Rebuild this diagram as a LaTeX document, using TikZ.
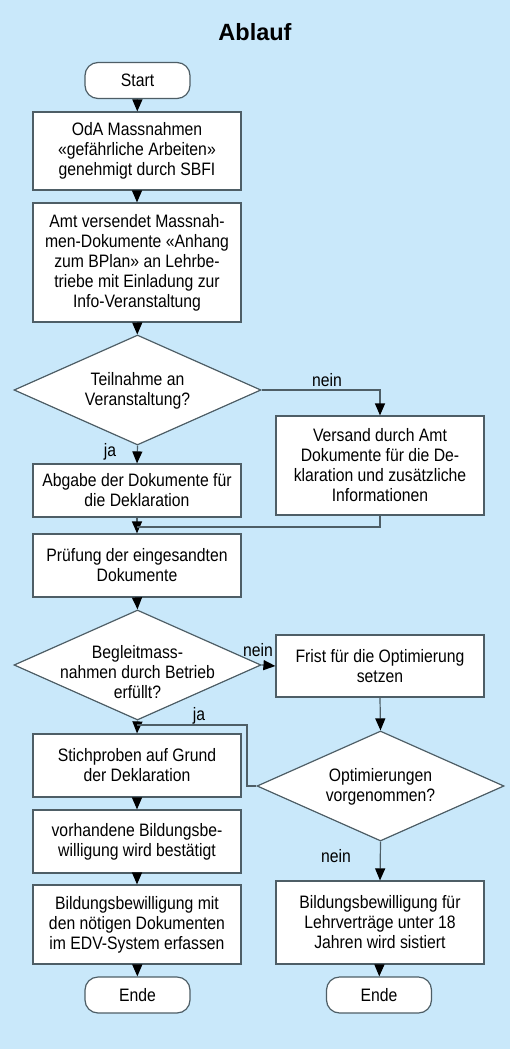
\documentclass[tikz,border=0pt]{standalone}
\usepackage{fontspec}
\setmainfont{Liberation Sans}[FakeStretch=0.875]
\newfontfamily\titlefont{Liberation Sans}
\usetikzlibrary{arrows.meta,shapes.geometric}
\definecolor{bgblue}{RGB}{201,232,250}
\definecolor{linegray}{RGB}{78,94,102}
\newcommand{\txtsize}{\fontsize{18}{20}\selectfont}
\tikzset{
  box/.style={draw=linegray, line width=1.2pt, fill=white, minimum width=208pt, align=center, inner sep=0pt, font=\txtsize},
  term/.style={draw=linegray, line width=1.2pt, fill=white, rounded corners=13pt, minimum width=105pt, minimum height=36pt, inner sep=0pt, font=\txtsize},
  decide/.style={diamond, draw=linegray, line width=1.2pt, fill=white, minimum width=247pt, minimum height=110pt, inner sep=0pt},
  decidetxt/.style={align=center, inner sep=0pt, font=\txtsize},
  flow/.style={draw=linegray, line width=1.2pt, -{Triangle[length=12pt,width=10pt,color=black]}},
  joinline/.style={draw=linegray, line width=1.2pt},
  lbl/.style={inner sep=0pt, font=\txtsize}
}
\begin{document}
\begin{tikzpicture}[x=1pt,y=-1pt]
\fill[bgblue] (0,0) rectangle (510,1049); \useasboundingbox (0,0) rectangle (510,1049);
\node[font=\titlefont\fontsize{23.5}{28}\bfseries] (title) at (255,32) {Ablauf};
% left column
\node[term] (start) at (137.5,80.5) {Start};
\node[box, minimum height=78pt] (oda) at (137,151) {OdA Massnahmen\\«gefährliche Arbeiten»\\genehmigt durch SBFI};
\node[box, minimum height=119pt] (amt) at (137,262.5) {Amt versendet Massnah-\\men-Dokumente «Anhang\\zum BPlan» an Lehrbe-\\triebe mit Einladung zur\\Info-Veranstaltung};
\node[decide] (teil) at (137.5,390) {}; \node[decidetxt] (teiltxt) at (137.5,391) {Teilnahme an\\Veranstaltung?};
\node[box, minimum height=53pt] (abgabe) at (137,490.5) {Abgabe der Dokumente für\\die Deklaration};
\node[box, minimum height=63pt] (pruef) at (137,565.5) {Prüfung der eingesandten\\Dokumente};
\node[decide] (begl) at (137.5,665) {}; \node[decidetxt] (begltxt) at (137.5,672) {Begleitmass-\\nahmen durch Betrieb\\erfüllt?};
\node[box, minimum height=63pt] (stich) at (137,765.5) {Stichproben auf Grund\\der Deklaration};
\node[box, minimum height=63pt] (vorh) at (137,841.5) {vorhandene Bildungsbe-\\willigung wird bestätigt};
\node[box, minimum height=79pt] (erfass) at (137,924.5) {Bildungsbewilligung mit\\den nötigen Dokumenten\\im EDV-System erfassen};
\node[term] (endeL) at (137.5,995) {Ende};
% right column
\node[box, minimum height=99pt] (versand) at (380,465.5) {Versand durch Amt\\Dokumente für die De-\\klaration und zusätzliche\\Informationen};
\node[box, minimum height=62pt] (frist) at (380,666) {Frist für die Optimierung\\setzen};
\node[decide] (opt) at (380.5,786) {}; \node[decidetxt] (opttxt) at (380.5,787) {Optimierungen\\vorgenommen?};
\node[box, minimum height=83pt] (sist) at (380,922.5) {Bildungsbewilligung für\\Lehrverträge unter 18\\Jahren wird sistiert};
\node[term] (endeR) at (379,995) {Ende};
% junctions
\coordinate (j1) at (137,527);
\coordinate (j2) at (247,725);
% connectors
\draw[flow] (start) -- (oda); \draw[flow] (oda) -- (amt); \draw[flow] (amt) -- (teil);
\draw[flow] (teil.east) -| (versand.north); \draw[flow] (teil.south) -- (abgabe.north);
\draw[flow] (abgabe) -- (pruef); \draw[joinline] (versand.south) |- (j1);
\draw[flow] (pruef.south) -- (begl.north); \draw[flow] (begl.east) -- (frist.west);
\draw[flow] (begl.south) -- (stich.north); \draw[flow] (frist.south) -- (opt.north);
\draw[joinline] (opt.west) -| (j2) -- (j2 -| stich.north);
\draw[flow] (stich) -- (vorh); \draw[flow] (vorh) -- (erfass); \draw[flow] (erfass) -- (endeL);
\draw[flow] (opt.south) -- (sist.north); \draw[flow] (sist) -- (endeR);
% labels
\node[lbl] (nein1) at (327,380) {nein}; \node[lbl] (ja1) at (110,452) {ja};
\node[lbl] (nein2) at (258,650) {nein}; \node[lbl] (ja2) at (199,716) {ja};
\node[lbl] (nein3) at (336,856) {nein};
\end{tikzpicture}
\end{document}
